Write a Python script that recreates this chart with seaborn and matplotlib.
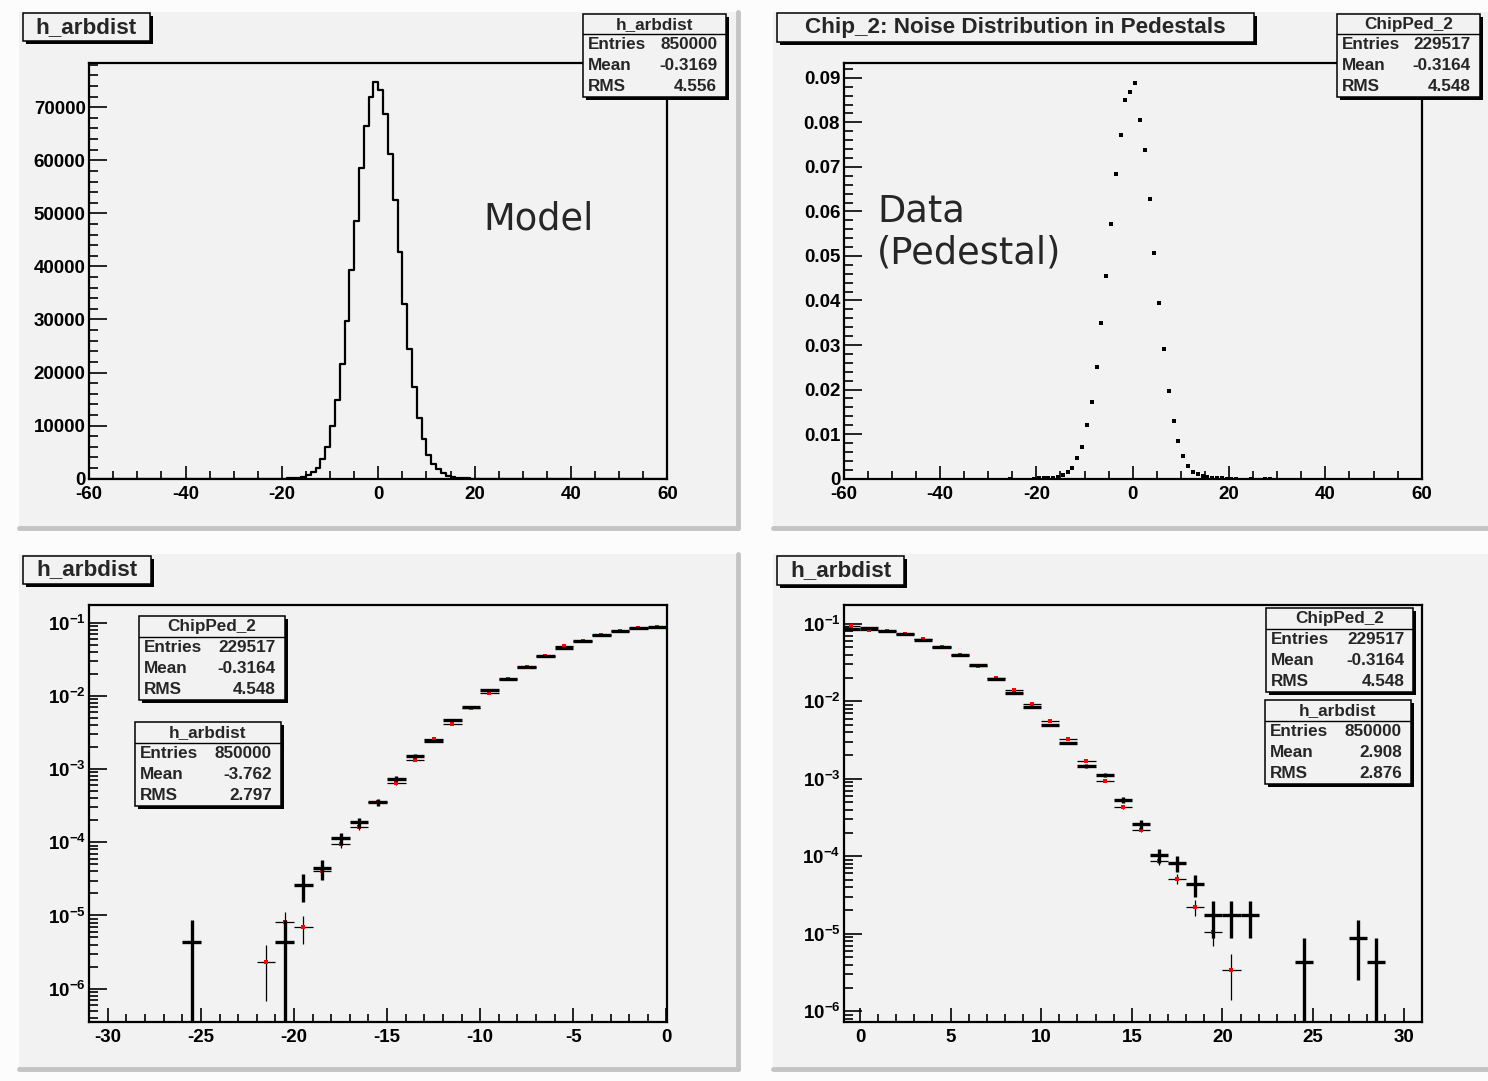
import numpy as np
import pandas as pd
import matplotlib
matplotlib.use("Agg")
import matplotlib.pyplot as plt
from matplotlib.patches import Rectangle
from matplotlib.lines import Line2D
from matplotlib.ticker import MultipleLocator, FuncFormatter, LogLocator, NullFormatter
import seaborn as sns

# ---------------------------------------------------------------------------
# Data
# ---------------------------------------------------------------------------
# h_arbdist model, full distribution: counts per unit-wide bin
model_centres = np.arange(-20.5, 20.0, 1.0)
model_counts = [5, 10, 25, 60, 140, 300, 640, 1250, 1930, 3680,
                5990, 9880, 14770, 21530, 29800, 39320, 48580, 58600, 66430, 71880,
                74690, 73320, 68740, 61110, 52470, 42630, 32930, 24480, 17270, 11330,
                7380, 4430, 2740, 1750, 990, 490, 250, 110, 50, 20, 8]

# ChipPed_2 pedestal noise, normalised to unit area
ped_centres = np.arange(-25.5, 29.0, 1.0)
ped_values = [4.36e-6, 0, 0, 0, 0, 4.36e-6, 2.6e-5, 4.4e-5, 1.13e-4, 1.87e-4,
              3.57e-4, 7.4e-4, 1.52e-3, 2.43e-3, 4.7e-3, 7.0e-3, 1.2e-2, 0.0173, 0.0251, 0.0350,
              0.0456, 0.0571, 0.0684, 0.0772, 0.0850, 0.0869, 0.0889, 0.0806, 0.0738, 0.0628,
              0.0506, 0.0395, 0.0292, 0.0196, 0.0129, 0.0085, 0.0050, 0.0029, 1.45e-3, 1.12e-3,
              5.4e-4, 2.6e-4, 1.04e-4, 8.2e-5, 4.36e-5, 1.74e-5, 1.74e-5, 1.74e-5, 0, 0,
              4.36e-6, 0, 0, 8.7e-6, 4.36e-6]

# h_arbdist model, negative half, normalised
neg_centres = np.arange(-21.5, 0.0, 1.0)
neg_values = [2.33e-6, 8.2e-6, 6.9e-6, 4.0e-5, 9.4e-5, 1.63e-4, 3.5e-4, 6.4e-4, 1.32e-3, 2.61e-3,
              4.1e-3, 6.9e-3, 1.10e-2, 0.0172, 0.0249, 0.0352, 0.0488, 0.0569, 0.0683, 0.0765,
              0.0850, 0.0875]

# h_arbdist model, positive half, normalised
pos_centres = np.arange(-0.5, 21.0, 1.0)
pos_values = [0.0942, 0.0845, 0.0813, 0.0745, 0.0630, 0.0500, 0.0400, 0.0290, 0.0200, 0.0140,
              0.0092, 0.0056, 0.0033, 0.0017, 9.5e-4, 4.3e-4, 2.2e-4, 8.8e-5, 5.1e-5, 2.2e-5,
              1.04e-5, 3.4e-6]

# statistics boxes
stat_labels = ["Entries", "Mean", "RMS"]
model_stats = ["850000", "-0.3169", "4.556"]
ped_stats = ["229517", "-0.3164", "4.548"]
neg_stats = ["850000", "-3.762", "2.797"]
pos_stats = ["850000", "2.908", "2.876"]
ped_entries = 229517
model_entries = 850000

# ---------------------------------------------------------------------------
# Style
# ---------------------------------------------------------------------------
W, H = 1488, 1081
CANVAS = "#fcfcfc"
PAD = "#f2f2f2"
EDGE = "#c4c4c4"
TICK_FS = 13.5
STAT_FS = 12.3
TITLE_FS = 16.2

sns.set_theme(style="ticks")
plt.rcParams["font.family"] = ["Liberation Sans", "DejaVu Sans"]
plt.rcParams["font.weight"] = "bold"
plt.rcParams["axes.unicode_minus"] = False
plt.rcParams["mathtext.fontset"] = "custom"
plt.rcParams["mathtext.rm"] = "Liberation Sans:bold"
plt.rcParams["mathtext.bf"] = "Liberation Sans:bold"
plt.rcParams["mathtext.it"] = "Liberation Sans:bold"

fig = plt.figure(figsize=(W / 100, H / 100), dpi=100, facecolor=CANVAS)


def fr(x0, y0, x1, y1):
    """pixel box (origin top-left) -> figure fraction [left, bottom, width, height]"""
    return [x0 / W, 1 - y1 / H, (x1 - x0) / W, (y1 - y0) / H]


def pad(x0, y0, x1, y1):
    l, b, w, h = fr(x0, y0, x1, y1)
    fig.add_artist(Rectangle((l, b), w, h, transform=fig.transFigure,
                             facecolor=PAD, edgecolor="none", zorder=-10))
    fig.add_artist(Line2D([l, l + w], [b, b], transform=fig.transFigure,
                          color=EDGE, lw=3.5, zorder=-9))
    fig.add_artist(Line2D([l + w, l + w], [b, b + h], transform=fig.transFigure,
                          color=EDGE, lw=3.5, zorder=-9))


def framed_box(x0, y0, x1, y1, shadow=3):
    l, b, w, h = fr(x0, y0, x1, y1)
    fig.add_artist(Rectangle((l + shadow / W, b - shadow / H), w, h, transform=fig.transFigure,
                             facecolor="black", edgecolor="none", zorder=5))
    fig.add_artist(Rectangle((l, b), w, h, transform=fig.transFigure,
                             facecolor=PAD, edgecolor="black", lw=1.1, zorder=6))


def title_box(x0, y0, x1, y1, text):
    framed_box(x0, y0, x1, y1)
    fig.text((x0 + x1) / 2 / W, 1 - (y0 + y1) / 2 / H, text, ha="center", va="center",
             fontsize=TITLE_FS, fontweight="bold", zorder=7)


def stats_box(x0, y0, x1, y1, name, values):
    framed_box(x0, y0, x1, y1)
    h = y1 - y0
    th = h * 0.247
    fig.text((x0 + x1) / 2 / W, 1 - (y0 + th / 2) / H, name, ha="center", va="center",
             fontsize=STAT_FS, fontweight="bold", zorder=7)
    fig.add_artist(Line2D([x0 / W, x1 / W], [1 - (y0 + th) / H] * 2, transform=fig.transFigure,
                          color="black", lw=1.0, zorder=7))
    rh = (h - th) / 3
    for i, (lab, val) in enumerate(zip(stat_labels, values)):
        yc = 1 - (y0 + th + rh * (i + 0.5)) / H
        fig.text((x0 + 5) / W, yc, lab, ha="left", va="center", fontsize=STAT_FS,
                 fontweight="bold", zorder=7)
        fig.text((x1 - 9) / W, yc, val, ha="right", va="center", fontsize=STAT_FS,
                 fontweight="bold", zorder=7)


def frame(ax, xmaj, xmin, ylen=(12.6, 6.5), xlen=(9.4, 5.5)):
    ax.set_facecolor(PAD)
    for s in ax.spines.values():
        s.set_visible(True)
        s.set_linewidth(1.6)
        s.set_color("black")
    ax.xaxis.set_major_locator(MultipleLocator(xmaj))
    ax.xaxis.set_minor_locator(MultipleLocator(xmin))
    ax.xaxis.set_major_formatter(FuncFormatter(lambda v, p: "%d" % round(v)))
    ax.tick_params(which="both", direction="in", top=False, right=False,
                   width=1.2, colors="black", labelsize=TICK_FS)
    ax.tick_params(axis="y", which="major", length=ylen[0], pad=2.5)
    ax.tick_params(axis="y", which="minor", length=ylen[1])
    ax.tick_params(axis="x", which="major", length=xlen[0], pad=5.2)
    ax.tick_params(axis="x", which="minor", length=xlen[1])
    for lab in ax.get_xticklabels() + ax.get_yticklabels():
        lab.set_fontweight("bold")
    ax.set_xlabel("")
    ax.set_ylabel("")


for p in [(19, 12, 738, 528), (773, 12, 1492, 528), (19, 554, 738, 1069), (773, 554, 1492, 1069)]:
    pad(*p)

# ---------------------------------------------------------------------------
# Top left: model histogram
# ---------------------------------------------------------------------------
ax_tl = fig.add_axes(fr(89.2, 62.7, 667.3, 478.6))
model_df = pd.DataFrame({"x": model_centres, "w": model_counts})
sns.histplot(data=model_df, x="x", weights="w", binwidth=1, binrange=(-60, 60),
             element="step", fill=False, color="black", linewidth=1.6, ax=ax_tl)
ax_tl.set_xlim(-60, 60)
ax_tl.set_ylim(0, 78400)
ax_tl.yaxis.set_major_locator(MultipleLocator(10000))
ax_tl.yaxis.set_minor_locator(MultipleLocator(2000))
ax_tl.yaxis.set_major_formatter(FuncFormatter(lambda v, p: "%d" % round(v)))
frame(ax_tl, 20, 5)
fig.text(483 / W, 1 - 229 / H, "Model", ha="left", va="baseline", fontsize=26.5,
         family="DejaVu Sans", fontweight="normal")

# ---------------------------------------------------------------------------
# Top right: pedestal data points
# ---------------------------------------------------------------------------
ax_tr = fig.add_axes(fr(843.7, 62.7, 1421.7, 478.6))
ped_arr = np.asarray(ped_values)
nz = ped_arr > 0
ped_df = pd.DataFrame({"x": ped_centres[nz], "y": ped_arr[nz]})
sns.scatterplot(data=ped_df, x="x", y="y", marker="s", s=9, color="black",
                linewidth=0, ax=ax_tr)
ax_tr.set_xlim(-60, 60)
ax_tr.set_ylim(0, 0.0934)
ax_tr.yaxis.set_major_locator(MultipleLocator(0.01))
ax_tr.yaxis.set_minor_locator(MultipleLocator(0.002))
ax_tr.yaxis.set_major_formatter(FuncFormatter(lambda v, p: "0" if abs(v) < 1e-9 else "%.2f" % v))
frame(ax_tr, 20, 5)
fig.text(877 / W, 1 - 222 / H, "Data", ha="left", va="baseline", fontsize=26.5,
         family="DejaVu Sans", fontweight="normal")
fig.text(877 / W, 1 - 263.4 / H, "(Pedestal)", ha="left", va="baseline", fontsize=26.5,
         family="DejaVu Sans", fontweight="normal")


# ---------------------------------------------------------------------------
# Bottom: log comparisons (model crosses underneath, data crosses on top)
# ---------------------------------------------------------------------------
def crosses(ax, centres, values, entries, lw, marker=False, z=2):
    v = np.asarray(values, dtype=float)
    c = np.asarray(centres, dtype=float)
    keep = v > 0
    err = np.sqrt(v[keep] / entries)
    ax.errorbar(c[keep], v[keep], xerr=0.5, yerr=err, fmt="none", ecolor="black",
                elinewidth=lw, capsize=0, zorder=z)
    if marker:
        mdf = pd.DataFrame({"x": c[keep], "y": v[keep]})
        sns.scatterplot(data=mdf, x="x", y="y", marker="s", s=5, color="red",
                        linewidth=0, ax=ax, zorder=z + 0.5)


def log_axis(ax):
    ax.set_yscale("log")
    ax.yaxis.set_major_locator(LogLocator(base=10, numticks=15))
    ax.yaxis.set_minor_locator(LogLocator(base=10, subs=np.arange(2, 10), numticks=15))
    ax.yaxis.set_minor_formatter(NullFormatter())
    ax.yaxis.set_major_formatter(FuncFormatter(lambda v, p: r"$\mathbf{10^{%d}}$" % round(np.log10(v))))


ax_bl = fig.add_axes(fr(89.2, 604.5, 667.3, 1022))
log_axis(ax_bl)
crosses(ax_bl, neg_centres, neg_values, model_entries, 0.9, marker=True, z=2)
crosses(ax_bl, ped_centres, ped_values, ped_entries, 2.4, z=3)
ax_bl.set_xlim(-31, 0.05)
ax_bl.set_ylim(10 ** -6.456, 10 ** -0.75)
frame(ax_bl, 5, 1, ylen=(13, 6.5), xlen=(10, 5.5))

ax_br = fig.add_axes(fr(843.7, 604.5, 1421.7, 1022))
log_axis(ax_br)
crosses(ax_br, pos_centres, pos_values, model_entries, 0.9, marker=True, z=2)
crosses(ax_br, ped_centres, ped_values, ped_entries, 2.4, z=3)
ax_br.set_xlim(-0.9, 31)
ax_br.set_ylim(10 ** -6.14, 10 ** -0.75)
frame(ax_br, 5, 1, ylen=(13, 6.5), xlen=(10, 5.5))

# ---------------------------------------------------------------------------
# Titles and statistics boxes
# ---------------------------------------------------------------------------
title_box(22.8, 13, 149.5, 41.3, "h_arbdist")
title_box(777.2, 13, 1254.2, 42, "Chip_2: Noise Distribution in Pedestals")
title_box(22.8, 555.5, 151, 584.1, "h_arbdist")
title_box(777.2, 555.5, 904.4, 584.9, "h_arbdist")

stats_box(582.8, 13.8, 726.2, 97.1, "h_arbdist", model_stats)
stats_box(1337.3, 13.8, 1479.6, 97.1, "ChipPed_2", ped_stats)
stats_box(138.6, 615.9, 284.8, 700.3, "ChipPed_2", ped_stats)
stats_box(134.8, 722, 281, 806.4, "h_arbdist", neg_stats)
stats_box(1266, 608.3, 1413.2, 691.8, "ChipPed_2", ped_stats)
stats_box(1264.6, 699.8, 1410.8, 784, "h_arbdist", pos_stats)

fig.savefig("out.png", dpi=100, facecolor=CANVAS)
